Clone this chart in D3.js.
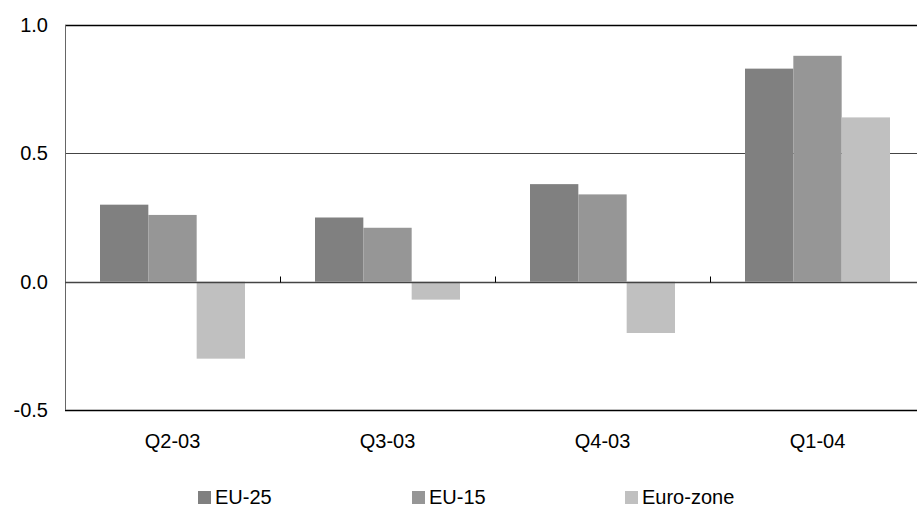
<!DOCTYPE html>
<head>
  <meta charset="utf-8">
  <style>
    body { margin: 0; background: #fff; }
    text { font-family: Arial, "Liberation Sans", sans-serif; fill: #000; }
  </style>
</head>
<body>
  <script src="https://cdn.jsdelivr.net/npm/d3@7/dist/d3.min.js"></script>
  <script>
    // data
    var quarters = ["Q2-03", "Q3-03", "Q4-03", "Q1-04"];
    var seriesNames = ["EU-25", "EU-15", "Euro-zone"];
    var eu25 = [0.30, 0.25, 0.38, 0.83];
    var eu15 = [0.26, 0.21, 0.34, 0.88];
    var euroZone = [-0.30, -0.07, -0.20, 0.64];
    var yTicks = [-0.5, 0.0, 0.5, 1.0];
    var colors = ["#808080", "#969696", "#c0c0c0"];

    var width = 917, height = 507;
    var plot = {left: 65, right: 925, top: 25, bottom: 410};

    var svg = d3.select("body").append("svg")
      .attr("width", width)
      .attr("height", height);

    var xScale = d3.scaleBand().domain(quarters).range([plot.left, plot.right]);
    var xInner = d3.scaleBand().domain(seriesNames).range([35, xScale.bandwidth() - 35]);
    var yScale = d3.scaleLinear().domain([-0.5, 1.0]).range([plot.bottom, plot.top]);

    // plain hyphen for negatives, like the original
    var fmt = function(d) { return d3.format(".1f")(d).replace("\u2212", "-"); };

    // gridlines
    svg.append("g").selectAll("line")
      .data(yTicks.filter(function(d) { return d != 0; }))
      .enter().append("line")
      .attr("x1", plot.left).attr("x2", width)
      .attr("y1", function(d) { return Math.round(yScale(d)) + 0.5; })
      .attr("y2", function(d) { return Math.round(yScale(d)) + 0.5; })
      .attr("stroke", function(d) { return (d == 1.0 || d == -0.5) ? "#000" : "#444"; })
      .attr("stroke-width", function(d) { return (d == 1.0 || d == -0.5) ? 1.5 : 1; });

    // left axis line
    svg.append("line")
      .attr("x1", plot.left + 0.5).attr("x2", plot.left + 0.5)
      .attr("y1", plot.top).attr("y2", plot.bottom)
      .attr("stroke", "#666");

    // y labels
    svg.append("g").selectAll("text")
      .data(yTicks)
      .enter().append("text")
      .attr("x", 48)
      .attr("y", function(d) { return yScale(d); })
      .attr("dy", "0.35em")
      .attr("text-anchor", "end")
      .style("font-size", "20px")
      .text(fmt);

    // bars
    var table = quarters.map(function(q, i) {
      return {q: q, vals: [eu25[i], eu15[i], euroZone[i]]};
    });
    var groups = svg.append("g").selectAll("g")
      .data(table)
      .enter().append("g")
      .attr("transform", function(d) { return "translate(" + xScale(d.q) + ",0)"; });
    groups.selectAll("rect")
      .data(function(d) { return d.vals.map(function(v, j) { return {name: seriesNames[j], v: v, j: j}; }); })
      .enter().append("rect")
      .attr("x", function(d) { return xInner(d.name); })
      .attr("width", xInner.bandwidth())
      .attr("y", function(d) { return yScale(Math.max(0, d.v)); })
      .attr("height", function(d) { return Math.abs(yScale(d.v) - yScale(0)); })
      .attr("fill", function(d) { return colors[d.j]; });

    // zero axis with category ticks
    var y0 = Math.round(yScale(0)) + 0.5;
    svg.append("line")
      .attr("x1", plot.left).attr("x2", width)
      .attr("y1", y0).attr("y2", y0)
      .attr("stroke", "#444").attr("stroke-width", 1.5);
    svg.append("g").selectAll("line")
      .data(quarters.slice(1))
      .enter().append("line")
      .attr("x1", function(d) { return Math.round(xScale(d)) + 0.5; })
      .attr("x2", function(d) { return Math.round(xScale(d)) + 0.5; })
      .attr("y1", y0 - 6).attr("y2", y0)
      .attr("stroke", "#000");

    // x labels
    svg.append("g").selectAll("text")
      .data(quarters)
      .enter().append("text")
      .attr("x", function(d) { return xScale(d) + xScale.bandwidth() / 2; })
      .attr("y", 448)
      .attr("text-anchor", "middle")
      .style("font-size", "20px")
      .text(function(d) { return d; });

    // legend
    var legendX = [198, 412, 625];
    var legend = svg.append("g").selectAll("g")
      .data(seriesNames)
      .enter().append("g")
      .attr("transform", function(d, i) { return "translate(" + legendX[i] + ",491)"; });
    legend.append("rect")
      .attr("width", 13).attr("height", 13)
      .attr("fill", function(d, i) { return colors[i]; });
    legend.append("text")
      .attr("x", 17).attr("y", 13)
      .style("font-size", "20px")
      .text(function(d) { return d; });
  </script>
</body>
